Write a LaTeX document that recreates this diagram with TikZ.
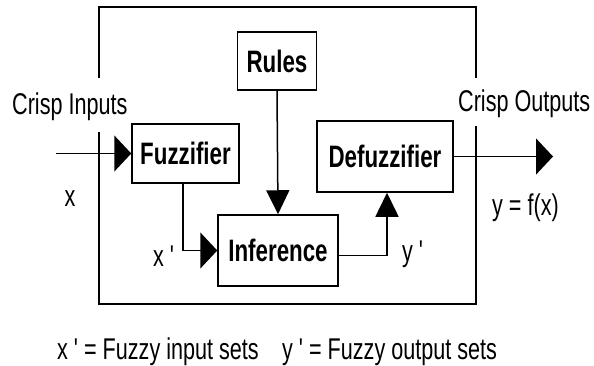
\documentclass[tikz,border=0pt]{standalone}
\usepackage{fontspec}
\usetikzlibrary{arrows.meta}
\newfontfamily\diafont[FakeStretch=0.72,Ligatures=TeXOff]{Liberation Sans}
\tikzset{
  blk/.style={draw=black, line width=1.5pt, fill=white, inner sep=0pt,
              font=\diafont\fontsize{31}{33}\selectfont\bfseries},
  lbl/.style={inner sep=0pt, font=\diafont\fontsize{30}{32}\selectfont},
  conn/.style={draw=black, line width=1.5pt},
  harrow/.style={conn, -{Triangle[length=17pt,width=36pt]}},
  varrow/.style={conn, -{Triangle[length=24pt,width=23pt]}}
}
\begin{document}
\begin{tikzpicture}[x=1pt,y=-1pt]
\path[use as bounding box] (0,0) rectangle (594,366);
% outer system box with gaps for the input/output labels
\draw[conn] (99,78) -- (99,7) -- (476,7) -- (476,78);
\draw[conn] (476,126) -- (476,304) -- (99,304) -- (99,132);
% blocks
\node[blk, minimum width=79pt, minimum height=58pt] (rules) at (277,61) {Rules};
\node[blk, minimum width=107pt, minimum height=59pt] (fuzz) at (185.5,153.5) {Fuzzifier};
\node[blk, minimum width=136pt, minimum height=71pt] (defuzz) at (385,156.5) {Defuzzifier};
\node[blk, minimum width=120pt, minimum height=71pt] (inf) at (278,250.5) {Inference};
% free ends
\coordinate (in) at (56,153.5);
\coordinate (out) at (553,156.5);
% connectors
\draw[harrow] (in) -- (fuzz.west);
\draw[harrow] ([xshift=-2.5pt]fuzz.south) |- (inf.west);
\draw[varrow] (rules.south) -- (inf.north);
\draw[varrow] ([yshift=-5pt]inf.east) -| ([xshift=2pt]defuzz.south);
\draw[harrow] (defuzz.east) -- (out);
% labels
\node[lbl, anchor=base west] (ci) at (12,115) {Crisp Inputs};
\node[lbl, anchor=base west] (co) at (458,112) {Crisp Outputs};
\node[lbl, anchor=base] (xl) at (70,207) {x};
\node[lbl, anchor=base west] (xp) at (153,266) {x '};
\node[lbl, anchor=base west] (yp) at (402,261) {y '};
\node[lbl, anchor=base west] (yf) at (492,215) {y = f(x)};
\node[lbl, anchor=base west] (n1) at (57,359) {x ' = Fuzzy input sets};
\node[lbl, anchor=base west] (n2) at (282,359) {y ' = Fuzzy output sets};
\end{tikzpicture}
\end{document}
